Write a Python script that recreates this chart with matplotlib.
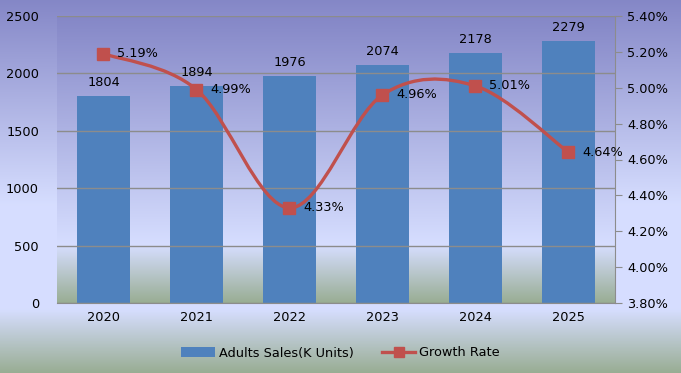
import numpy as np
import matplotlib.pyplot as plt
from matplotlib.path import Path
from matplotlib.patches import PathPatch, Patch
from matplotlib.lines import Line2D
from matplotlib.colors import LinearSegmentedColormap
from matplotlib.ticker import FuncFormatter

years = ['2020', '2021', '2022', '2023', '2024', '2025']
sales = [1804, 1894, 1976, 2074, 2178, 2279]
growth = [5.19, 4.99, 4.33, 4.96, 5.01, 4.64]

bar_col = '#4F81BD'
line_col = '#C0504D'
purple = (0.52, 0.53, 0.78)
light = (0.84, 0.87, 1.0)
green = (0.60, 0.68, 0.58)
fs = 9.3

fig = plt.figure(figsize=(6.81, 3.73), dpi=100)

# figure background gradient
bg = fig.add_axes([0, 0, 1, 1], zorder=-10)
cm_fig = LinearSegmentedColormap.from_list('f', [(0, purple), (0.55, light), (0.83, light), (1, green)])
bg.imshow(np.linspace(0, 1, 256).reshape(-1, 1), cmap=cm_fig, aspect='auto', extent=[0, 1, 0, 1])
bg.axis('off')

ax = fig.add_axes([57/681, 1 - 303/373, 558/681, 287/373])
cm_ax = LinearSegmentedColormap.from_list('a', [(0, purple), (0.8, light), (1, green)])
ax.imshow(np.linspace(0, 1, 256).reshape(-1, 1), cmap=cm_ax, aspect='auto',
          extent=[-0.5, 5.5, 0, 2500], zorder=0)

x = np.arange(len(years))
bars = ax.bar(x, sales, width=0.57, color=bar_col, zorder=2)
for xi, v in zip(x, sales):
    ax.text(xi, v + 60, str(v), ha='center', va='bottom', fontsize=fs, zorder=5)

ax.set_xlim(-0.5, 5.5)
ax.set_ylim(0, 2500)
ax.set_yticks(range(0, 2501, 500))
ax.yaxis.grid(True, color='#8c8c8c', linewidth=1)
ax.set_axisbelow(False)
for gl in ax.get_ygridlines():
    gl.set_zorder(1)
ax.set_xticks(x)
ax.set_xticklabels(years)
ax.tick_params(axis='both', length=0, labelsize=fs, pad=6)
ax.tick_params(axis='y', pad=13)
for s in ['top', 'left', 'right']:
    ax.spines[s].set_visible(False)
ax.spines['bottom'].set_color('#8c8c8c')

ax2 = ax.twinx()
ax2.set_ylim(3.8, 5.4)
ax2.set_yticks(np.arange(3.8, 5.41, 0.2))
ax2.yaxis.set_major_formatter(FuncFormatter(lambda v, p: f'{v:.2f}%'))
ax2.tick_params(axis='y', length=5, color='#8c8c8c', labelsize=fs, pad=4)
for s in ['top', 'left', 'bottom']:
    ax2.spines[s].set_visible(False)
ax2.spines['right'].set_color('#8c8c8c')

# smoothed line through the points (Catmull-Rom as cubic Bezier)
pts = np.column_stack([x, growth]).astype(float)
verts = [tuple(pts[0])]
codes = [Path.MOVETO]
n = len(pts)
for i in range(n - 1):
    p0 = pts[max(i - 1, 0)]
    p1 = pts[i]
    p2 = pts[i + 1]
    p3 = pts[min(i + 2, n - 1)]
    c1 = p1 + (p2 - p0) / 6
    c2 = p2 - (p3 - p1) / 6
    verts += [tuple(c1), tuple(c2), tuple(p2)]
    codes += [Path.CURVE4] * 3
ax2.add_patch(PathPatch(Path(verts, codes), facecolor='none', edgecolor=line_col, lw=2.4, zorder=3))
ax2.plot(x, growth, linestyle='none', marker='s', markersize=8.5, color=line_col, zorder=4)
for xi, g in zip(x, growth):
    ax2.text(xi + 0.15, g, f'{g:.2f}%', ha='left', va='center', fontsize=fs, zorder=5)

handles = [Patch(facecolor=bar_col), Line2D([], [], color=line_col, lw=2.4, marker='s', markersize=7)]
fig.legend(handles, ['Adults Sales(K Units)', 'Growth Rate'], loc='center', bbox_to_anchor=(0.5, 1 - 353/373),
           ncol=2, frameon=False, fontsize=fs, handlelength=2.6, columnspacing=2.2, handletextpad=0.3)

fig.savefig('out.png', dpi=100)
